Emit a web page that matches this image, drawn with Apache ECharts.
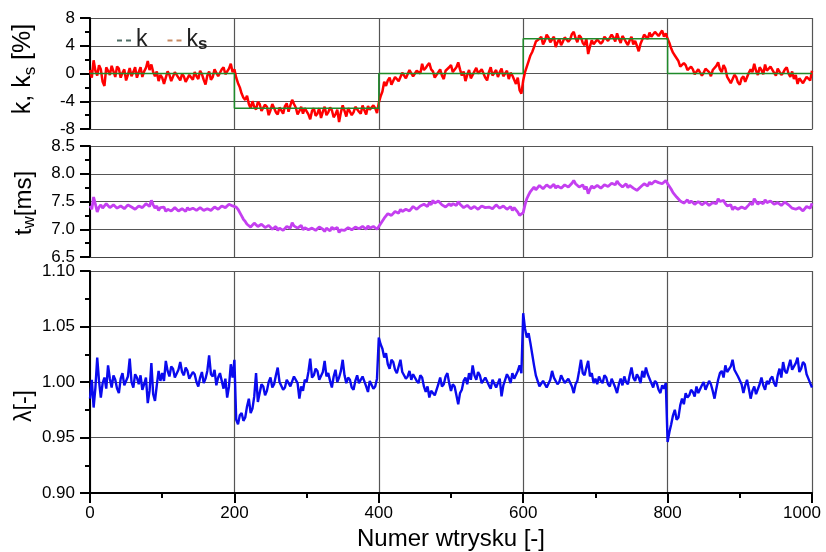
<!DOCTYPE html>
<html>
<head>
<meta charset="utf-8">
<script src="https://cdn.jsdelivr.net/npm/echarts@6/dist/echarts.min.js"></script>
<style>html,body{margin:0;padding:0;background:#fff}#c{width:826px;height:552px}</style>
</head>
<body>
<div id="c"></div>
<script>
// values are read every STEP injections (shot numbers 0, 2.5, 5, ... 1000)
const STEP = 2.5;
const xTickLabels = ['0', '200', '400', '600', '800', '1000'];

// set-point k [%] (step changes)
const kShots = [0, 200, 200, 400, 400, 600, 600, 800, 800, 1000];
const kValues = [0, 0, -5, -5, 0, 0, 5, 5, 0, 0];

// estimated k_s [%]
const ksValues = [
  0.5,-0.6,1.9,0.4,-0.3,1.2,0.6,-1.2,-1.8,0.9,0.4,-0.2,1.1,0.3,-0.5,1.0,0.7,-0.6,0.1,0.6,-1.0,-0.2,0.8,-0.4,0.2,0.9,-0.6,0.2,0.9,-0.5,0.3,0.8,1.8,0.5,1.3,0.2,-0.4,0.3,-1.1,-0.2,
  -0.6,-1.5,-1.3,0.3,-0.2,-1.1,-0.9,0.2,0.1,-0.6,-1.0,-0.1,-0.4,-1.2,-1.4,-0.2,-0.3,-0.9,0.2,-0.4,-0.8,0.4,-0.1,-0.9,-1.6,-0.3,0.3,-0.9,-0.5,0.6,0.4,-0.4,-0.2,0.6,0.9,-0.1,0.1,0.7,1.4,0.2,
  0.6,-0.6,-1.4,-2.0,-2.9,-3.5,-3.8,-3.2,-4.4,-5.0,-4.0,-4.8,-5.2,-4.1,-4.4,-5.4,-5.6,-4.5,-4.8,-6.0,-5.3,-4.4,-4.6,-5.6,-5.9,-4.9,-5.0,-5.8,-4.7,-4.3,-5.5,-4.6,-3.8,-4.4,-4.9,-5.9,-5.4,-4.8,-5.8,-5.0,
  -5.2,-5.9,-6.6,-5.4,-5.0,-6.1,-5.8,-5.0,-6.4,-5.5,-4.8,-6.0,-5.6,-4.9,-5.3,-6.3,-5.9,-5.2,-7.0,-5.6,-4.6,-5.4,-6.2,-5.0,-5.1,-6.0,-5.6,-4.8,-4.9,-5.5,-5.8,-4.6,-5.3,-5.9,-4.7,-5.2,-5.4,-4.6,-5.0,-5.7,
  -4.2,-3.3,-2.6,-1.2,-1.8,-1.0,-0.6,-1.6,-1.4,-0.5,-0.3,-1.1,-0.9,0.1,0.2,-0.7,-0.5,0.5,0.3,-0.4,-0.2,0.4,0.6,0.0,1.4,0.5,0.8,1.2,1.5,0.6,0.3,-0.6,-0.4,0.2,0.6,-0.3,-0.8,0.4,0.2,0.9,
  1.2,0.2,0.4,0.9,1.6,0.6,-0.3,0.3,-1.1,-0.2,0.5,-0.7,-0.6,0.3,0.8,0.0,-0.2,0.6,0.4,-0.6,-1.0,0.2,0.9,-0.3,0.1,0.5,-0.5,0.2,0.7,-0.4,0.0,0.4,-0.8,0.1,-0.3,-0.9,-1.5,-0.6,-2.4,-2.9,
  -1.0,0.2,1.0,1.8,2.6,3.1,3.8,4.6,4.4,5.0,5.3,4.2,4.7,5.6,5.2,4.5,4.4,5.3,3.8,4.5,5.0,4.1,4.6,5.2,5.4,4.6,4.9,5.7,6.0,5.1,4.5,5.5,5.2,4.4,4.1,5.0,2.8,3.9,4.8,4.2,
  4.2,4.9,5.1,4.3,4.6,5.3,5.5,4.7,4.9,5.6,5.2,4.6,5.8,5.0,4.4,5.4,5.0,4.5,4.1,4.8,5.3,4.2,4.7,4.0,3.2,4.3,4.9,5.6,5.4,5.0,5.9,5.3,5.5,6.0,6.1,5.4,5.6,6.2,5.3,5.8,
  5.0,4.4,3.6,3.0,2.6,2.2,1.8,1.0,0.9,1.5,1.2,0.5,0.3,1.0,0.6,-0.1,-0.2,0.6,0.5,-0.3,0.1,0.7,0.8,0.2,-0.4,0.5,0.4,1.1,1.6,0.6,0.2,1.2,0.7,-0.5,-0.3,-1.4,-1.2,-0.2,-0.5,-1.3,
  -1.6,-0.7,-0.4,-1.2,-1.0,0.1,0.6,0.2,1.4,0.4,-0.2,0.9,0.5,-0.1,1.3,0.4,0.2,1.0,0.8,0.1,-0.3,0.7,0.6,-0.2,0.1,0.6,0.9,0.0,-0.5,0.3,-0.8,-0.2,-1.5,-0.7,-0.6,-1.4,-1.2,-0.5,-0.3,-1.0,0.4
];

// estimated t_w [ms]
const twValues = [
  7.42,7.36,7.58,7.45,7.31,7.40,7.44,7.38,7.36,7.46,7.45,7.39,7.40,7.44,7.46,7.38,7.37,7.42,7.43,7.37,7.39,7.44,7.46,7.40,7.41,7.36,7.35,7.42,7.44,7.39,7.40,7.46,7.48,7.41,7.52,7.44,7.38,7.42,7.34,7.39,
  7.36,7.40,7.32,7.36,7.38,7.33,7.34,7.39,7.37,7.33,7.31,7.37,7.36,7.32,7.39,7.35,7.33,7.38,7.37,7.34,7.35,7.39,7.40,7.34,7.32,7.37,7.38,7.34,7.36,7.40,7.41,7.36,7.37,7.42,7.44,7.39,7.40,7.45,7.47,7.42,
  7.44,7.40,7.36,7.30,7.24,7.18,7.14,7.09,7.10,7.04,7.06,7.11,7.12,7.05,7.04,7.09,7.08,7.03,7.02,7.07,7.05,7.00,7.00,7.05,6.98,7.02,7.04,6.98,7.01,7.05,7.06,7.02,7.12,7.06,7.08,7.02,7.03,7.07,6.99,7.03,
  7.02,6.99,6.97,7.02,7.03,6.98,6.99,7.04,7.05,7.00,6.96,7.02,7.01,6.97,7.04,7.00,6.98,7.03,6.94,6.99,7.02,6.98,6.97,7.03,7.03,6.99,7.00,7.04,7.05,7.01,7.01,7.05,7.03,7.00,7.06,7.02,7.02,7.05,7.04,7.00,
  7.05,7.10,7.15,7.20,7.24,7.28,7.30,7.25,7.27,7.32,7.33,7.29,7.36,7.32,7.31,7.36,7.38,7.33,7.35,7.41,7.40,7.36,7.34,7.42,7.39,7.45,7.44,7.41,7.48,7.44,7.52,7.47,7.46,7.51,7.50,7.44,7.45,7.40,7.41,7.46,
  7.42,7.46,7.47,7.43,7.50,7.45,7.44,7.39,7.38,7.43,7.42,7.37,7.35,7.41,7.40,7.36,7.37,7.42,7.44,7.39,7.36,7.40,7.41,7.37,7.39,7.44,7.43,7.38,7.37,7.42,7.41,7.36,7.38,7.41,7.34,7.39,7.36,7.31,7.25,7.28,
  7.30,7.44,7.55,7.62,7.68,7.72,7.76,7.71,7.74,7.79,7.78,7.73,7.75,7.80,7.80,7.75,7.77,7.81,7.74,7.78,7.79,7.74,7.76,7.80,7.81,7.76,7.77,7.83,7.88,7.82,7.80,7.76,7.76,7.80,7.72,7.77,7.64,7.72,7.78,7.74,
  7.74,7.79,7.78,7.74,7.76,7.80,7.81,7.77,7.79,7.83,7.84,7.80,7.87,7.82,7.80,7.76,7.78,7.82,7.75,7.79,7.79,7.74,7.76,7.70,7.72,7.76,7.78,7.82,7.82,7.78,7.85,7.81,7.83,7.87,7.89,7.84,7.86,7.82,7.84,7.88,
  7.82,7.77,7.72,7.66,7.62,7.58,7.55,7.51,7.52,7.47,7.49,7.53,7.47,7.51,7.50,7.45,7.46,7.50,7.48,7.44,7.45,7.49,7.47,7.43,7.44,7.48,7.50,7.46,7.55,7.50,7.48,7.52,7.46,7.42,7.39,7.44,7.35,7.40,7.40,7.36,
  7.36,7.40,7.42,7.37,7.39,7.44,7.48,7.44,7.55,7.50,7.45,7.49,7.50,7.46,7.53,7.48,7.46,7.51,7.49,7.45,7.44,7.48,7.47,7.43,7.45,7.49,7.48,7.44,7.42,7.38,7.40,7.36,7.34,7.39,7.38,7.33,7.36,7.41,7.42,7.38,7.47
];

// estimated lambda [-]
const lambdaValues = [
  0.985,1.002,0.977,0.995,1.022,1.001,0.986,0.999,1.004,0.994,1.015,1.003,0.995,1.006,1.002,0.994,0.990,1.003,1.008,0.997,0.998,1.005,1.021,1.000,0.995,1.007,1.004,0.998,1.006,0.993,0.998,1.004,0.981,0.992,1.017,0.989,0.983,0.997,1.010,1.001,
  1.008,1.001,1.019,1.010,1.005,1.014,1.012,1.004,1.003,1.011,1.018,1.009,1.006,1.013,1.010,1.003,1.002,1.009,1.007,1.000,0.996,1.004,1.009,0.999,1.003,1.010,1.024,1.007,1.005,1.011,0.997,1.004,1.008,1.001,0.994,1.003,0.986,0.996,1.016,1.004,
  1.020,0.966,0.962,0.970,0.972,0.965,0.968,0.978,0.985,0.972,0.976,0.987,1.008,0.982,0.990,0.998,0.996,0.988,0.992,1.000,1.004,0.995,0.998,1.006,1.013,1.000,1.001,0.993,0.995,1.002,1.003,0.996,0.997,1.005,1.006,0.999,0.985,0.996,0.992,1.002,
  1.000,1.009,1.021,1.004,1.006,1.012,1.010,1.002,1.003,1.009,1.019,1.005,1.008,1.001,0.995,1.005,1.011,1.000,1.004,1.010,1.020,1.006,0.999,1.004,1.002,0.995,0.993,1.001,1.006,0.999,0.998,1.005,1.004,0.996,0.991,1.001,1.002,0.994,0.996,1.003,
  1.040,1.034,1.030,1.022,1.026,1.016,1.012,1.020,1.018,1.011,1.008,1.014,1.020,1.009,1.010,1.003,1.005,1.010,1.002,1.007,1.008,1.001,0.999,1.006,1.004,0.996,0.991,0.996,0.986,0.992,0.993,0.988,0.989,0.998,1.004,0.996,0.998,1.005,1.008,0.999,
  0.992,0.998,0.996,0.988,0.980,0.990,0.993,1.001,1.004,0.998,1.008,1.002,1.015,1.006,1.002,1.009,1.006,0.999,0.998,1.004,1.003,0.997,0.994,1.002,1.001,0.995,0.996,1.003,0.987,0.997,1.002,1.007,1.004,0.999,1.008,1.003,1.003,1.010,1.015,1.008,
  1.062,1.048,1.040,1.044,1.035,1.025,1.015,1.006,1.001,0.996,0.997,1.001,1.002,0.995,0.996,1.002,1.010,1.004,1.003,0.998,1.000,1.006,1.005,0.999,0.998,1.003,1.004,0.996,0.990,0.998,1.001,1.010,1.020,1.008,1.006,1.013,1.019,1.005,1.008,0.999,
  1.003,0.998,1.005,1.001,0.999,1.006,1.004,0.998,0.996,1.003,1.002,0.995,0.990,0.998,1.003,0.997,1.005,1.000,0.998,1.006,1.013,1.004,1.001,1.007,1.004,0.999,1.010,1.004,1.013,1.007,1.006,0.999,0.995,1.001,0.999,0.993,0.990,0.997,0.994,0.999,
  0.946,0.955,0.962,0.970,0.975,0.966,0.968,0.979,0.985,0.980,0.990,0.986,0.988,0.993,0.991,0.987,0.996,0.990,0.990,0.997,1.000,0.993,0.994,1.001,0.998,0.992,0.985,0.994,1.002,1.008,1.010,1.004,1.015,1.009,1.008,1.014,1.020,1.011,1.012,1.005,
  1.006,0.998,0.990,0.997,1.002,0.994,0.985,0.992,0.996,0.989,0.990,0.998,1.004,0.997,0.993,1.001,0.998,1.003,1.005,0.999,0.996,1.006,1.012,1.004,1.018,1.010,1.008,1.014,1.020,1.011,1.010,1.017,1.022,1.009,1.012,1.018,1.016,1.007,1.003,0.999,0.995
];

const FONT = '"Liberation Sans", Arial, sans-serif';
const pairs = arr => arr.map((v, i) => [i * STEP, v]);

const chart = echarts.init(document.getElementById('c'), null, {renderer: 'canvas'});

const gridColor = '#555';
function xAxisFor(idx, bottom) {
  return {
    type: 'value', gridIndex: idx, min: 0, max: 1000, interval: 200,
    axisLine: {show: true, onZero: false, lineStyle: {color: bottom ? '#000' : '#444', width: bottom ? 2 : 1.2}},
    axisTick: {show: bottom, length: 10, lineStyle: {color: '#000', width: 2}},
    minorTick: {show: bottom, splitNumber: 2, length: 5, lineStyle: {color: '#000', width: 2}},
    axisLabel: {show: bottom, fontSize: 17, color: '#000', fontFamily: FONT, margin: 12,
      formatter: v => {
        const t = xTickLabels[Math.round(v / 200)];
        return v >= 1000 ? '{last|' + t + '}' : t;
      },
      rich: {last: {fontSize: 17, color: '#000', fontFamily: FONT, padding: [0, 20, 0, 0]}}},
    splitLine: {show: true, lineStyle: {color: gridColor, width: 1.2}},
    name: bottom ? 'Numer wtrysku [-]' : '',
    nameLocation: 'middle', nameGap: 34,
    nameTextStyle: {fontSize: 24, color: '#000', fontFamily: FONT}
  };
}
function yAxisFor(idx, min, max, interval, digits) {
  return {
    type: 'value', gridIndex: idx, min: min, max: max, interval: interval,
    axisLine: {show: true, lineStyle: {color: '#000', width: 2}},
    axisTick: {show: true, length: 10, lineStyle: {color: '#000', width: 2}},
    minorTick: {show: true, splitNumber: 2, length: 5, lineStyle: {color: '#000', width: 2}},
    axisLabel: {fontSize: 17, color: '#000', fontFamily: FONT, margin: 15,
      formatter: v => v.toFixed(digits)},
    splitLine: {show: true, lineStyle: {color: gridColor, width: 1.2}}
  };
}

const option = {
  animation: false,
  backgroundColor: '#fff',
  grid: [
    {left: 90, top: 18, width: 722, height: 111, outerBoundsMode: 'none'},
    {left: 90, top: 146, width: 722, height: 111, outerBoundsMode: 'none'},
    {left: 90, top: 271, width: 722, height: 222, outerBoundsMode: 'none'}
  ],
  xAxis: [xAxisFor(0, false), xAxisFor(1, false), xAxisFor(2, true)],
  yAxis: [
    yAxisFor(0, -8, 8, 4, 0),
    yAxisFor(1, 6.5, 8.5, 0.5, 1),
    yAxisFor(2, 0.9, 1.1, 0.05, 2)
  ],
  legend: {
    left: 112, top: 23, itemWidth: 14, itemHeight: 2, itemGap: 20,
    icon: 'path://M0 0H5V2H0Z M9 0H14V2H9Z',
    data: [
      {name: 'k', itemStyle: {color: '#4f6f66'}},
      {name: 'ks', itemStyle: {color: '#c98a62'}}
    ],
    formatter: n => n === 'ks' ? '{n|k}{s|s}' : '{n|k}',
    textStyle: {
      color: '#222', fontFamily: FONT, fontSize: 23,
      rich: {
        n: {fontSize: 23, fontFamily: FONT, color: '#222', lineHeight: 25, verticalAlign: 'top'},
        s: {fontSize: 17, fontFamily: FONT, fontWeight: 'bold', color: '#222', lineHeight: 15, verticalAlign: 'bottom'}
      }
    }
  },
  graphic: [
    {type: 'text', x: 25, y: 69, rotation: Math.PI / 2,
      style: {text: '{n|k, k}{s|s}{n| [%]}', align: 'center', verticalAlign: 'middle',
        rich: {
          n: {fontSize: 25, fontFamily: FONT, fill: '#000', lineHeight: 28, verticalAlign: 'top'},
          s: {fontSize: 17, fontFamily: FONT, fill: '#000', lineHeight: 14, verticalAlign: 'bottom'}
        }}},
    {type: 'text', x: 25, y: 203, rotation: Math.PI / 2,
      style: {text: '{n|t}{s|w}{n|[ms]}', align: 'center', verticalAlign: 'middle',
        rich: {
          n: {fontSize: 24, fontFamily: FONT, fill: '#000', lineHeight: 26, verticalAlign: 'top'},
          s: {fontSize: 17, fontFamily: FONT, fill: '#000', lineHeight: 14, verticalAlign: 'bottom'}
        }}},
    {type: 'text', x: 25, y: 406, rotation: Math.PI / 2,
      style: {text: 'λ[-]', align: 'center', verticalAlign: 'middle',
        font: '23px ' + FONT, fill: '#000'}}
  ],
  series: [
    {name: 'ks', type: 'line', xAxisIndex: 0, yAxisIndex: 0, data: pairs(ksValues),
      symbol: 'none', lineStyle: {color: '#ff0000', width: 2.5}, itemStyle: {color: '#ff0000'}, z: 3},
    {name: 'k', type: 'line', xAxisIndex: 0, yAxisIndex: 0,
      data: kShots.map((x, i) => [x, kValues[i]]),
      symbol: 'none', lineStyle: {color: '#1f8a2a', width: 1.5}, itemStyle: {color: '#1f8a2a'}, z: 4},
    {name: 'tw', type: 'line', xAxisIndex: 1, yAxisIndex: 1, data: pairs(twValues),
      symbol: 'none', lineStyle: {color: '#c43ff0', width: 2.8}, itemStyle: {color: '#c43ff0'}},
    {name: 'lambda', type: 'line', xAxisIndex: 2, yAxisIndex: 2, data: pairs(lambdaValues),
      symbol: 'none', lineStyle: {color: '#0a0aee', width: 2.4}, itemStyle: {color: '#0a0aee'}}
  ]
};
chart.setOption(option);
</script>
</body>
</html>
